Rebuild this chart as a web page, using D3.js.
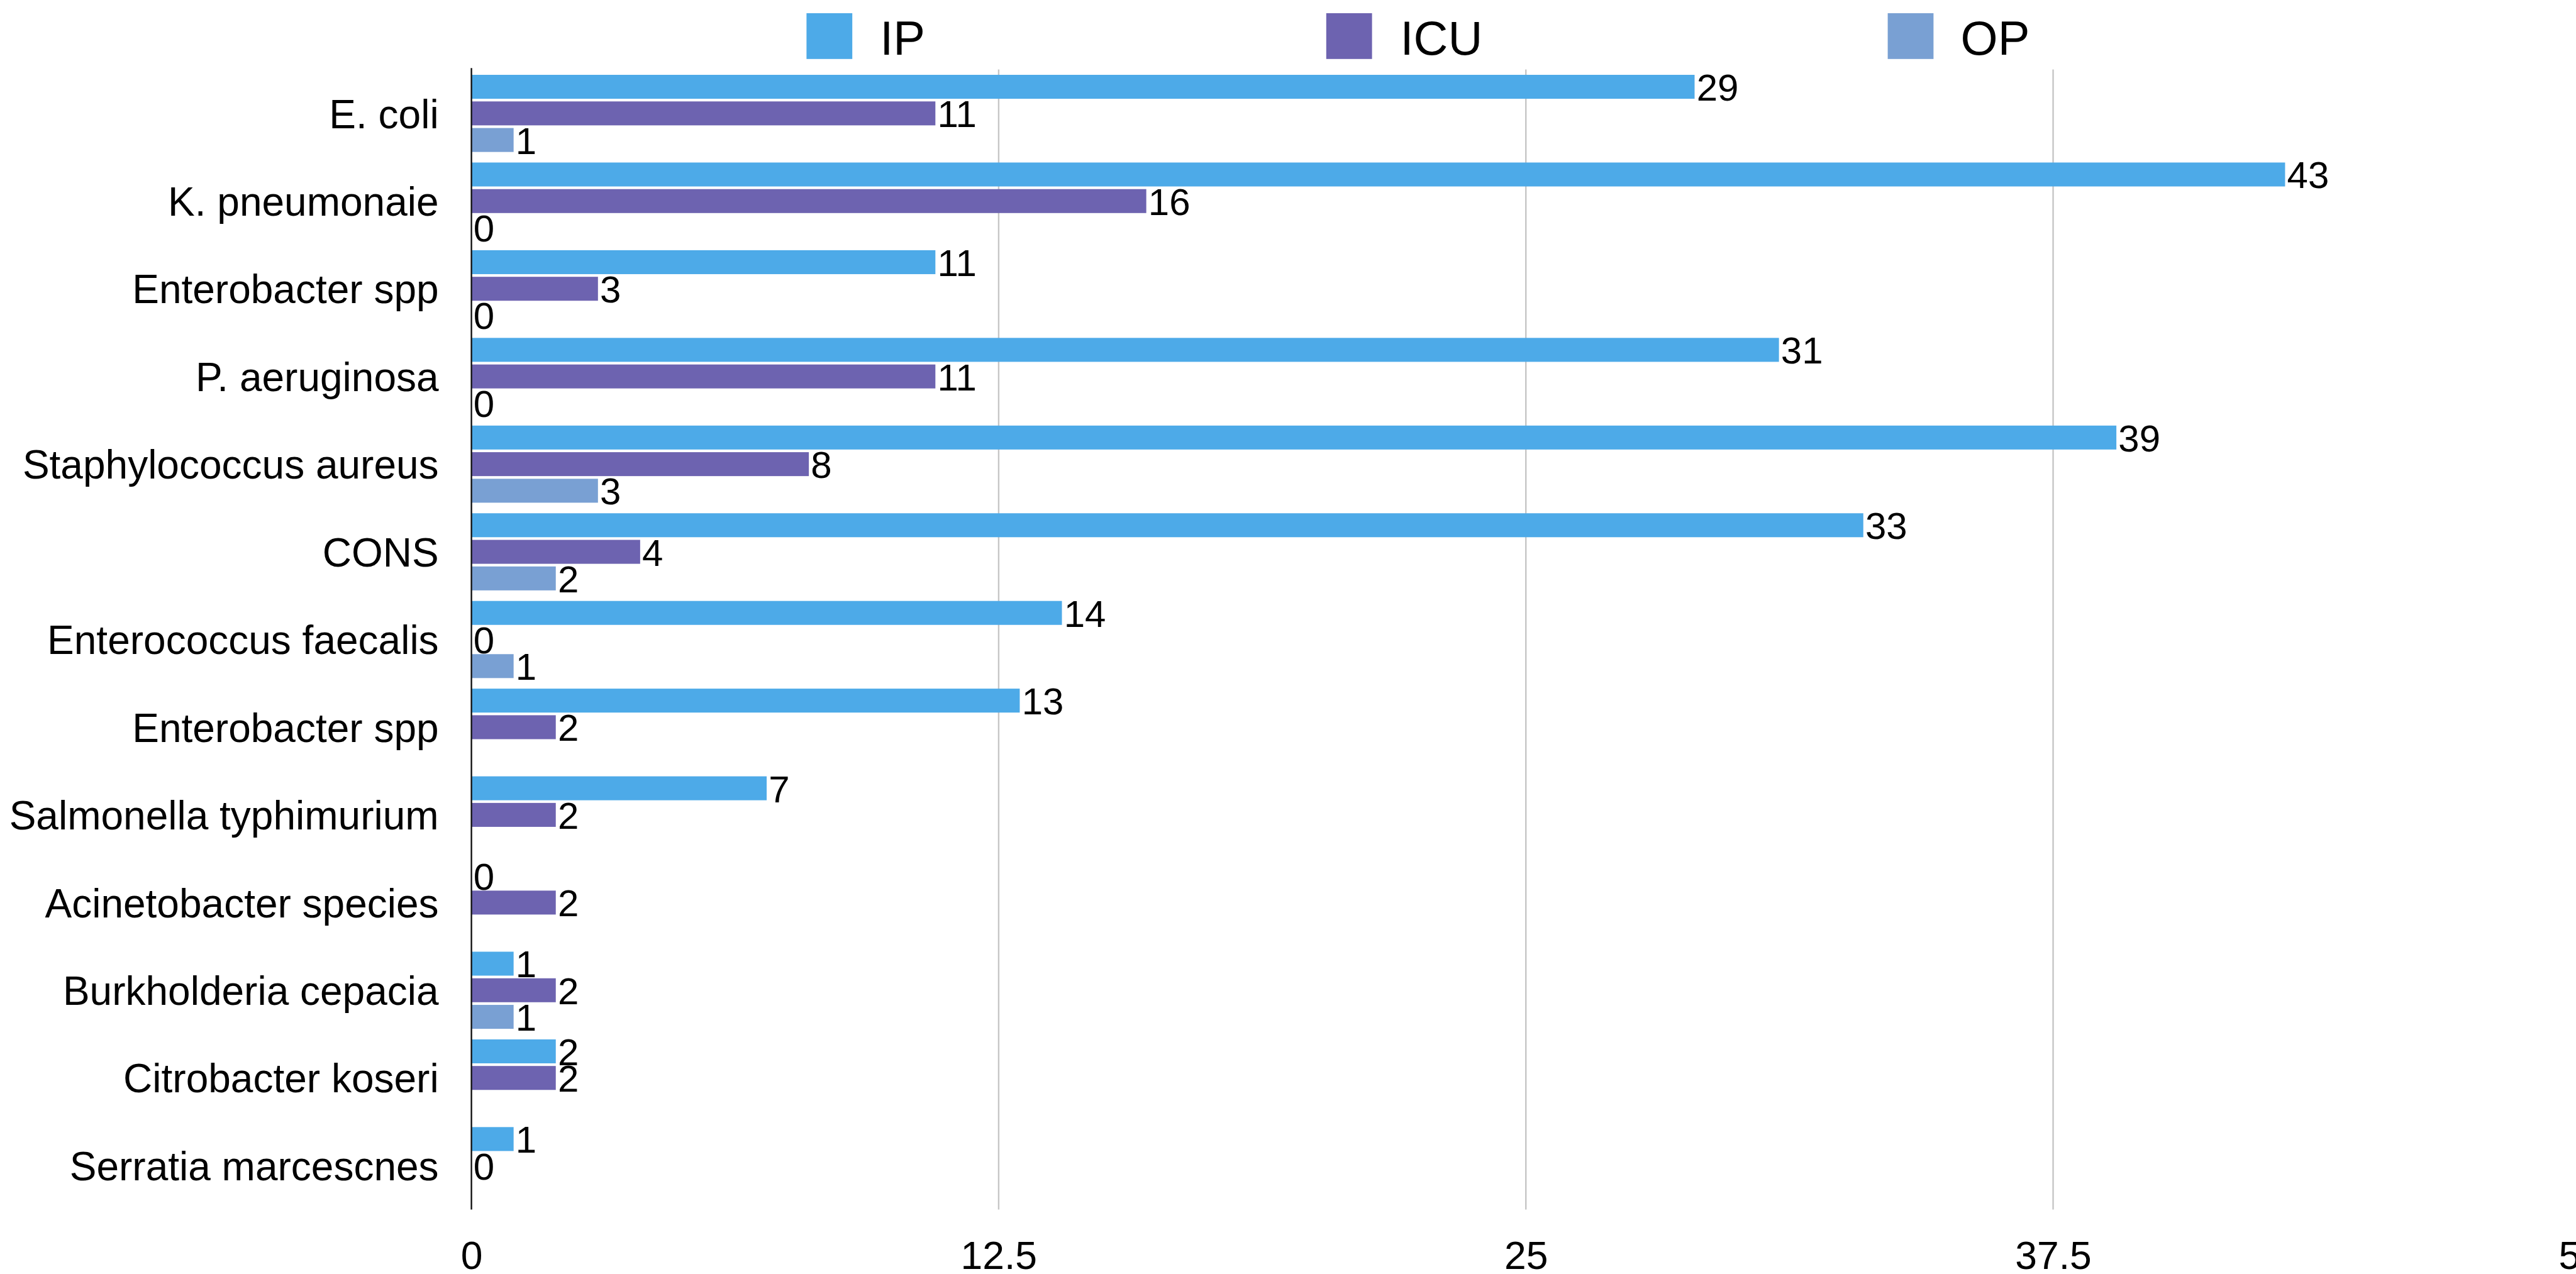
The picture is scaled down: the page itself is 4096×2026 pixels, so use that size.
<!DOCTYPE html>
<html>
<head>
<meta charset="utf-8">
<script src="https://cdn.jsdelivr.net/npm/d3@7"></script>
<style>
html,body{margin:0;padding:0;background:#fff;overflow:hidden;}
svg{display:block;}
text{font-family:"Liberation Sans",Arial,Helvetica,sans-serif;fill:#000;}
</style>
</head>
<body>
<script>
const categories = ["E. coli","K. pneumonaie","Enterobacter spp","P. aeruginosa","Staphylococcus aureus","CONS","Enterococcus faecalis","Enterobacter spp ","Salmonella typhimurium","Acinetobacter species","Burkholderia cepacia","Citrobacter koseri","Serratia marcescnes"];
const seriesNames = ["IP","ICU","OP"];
const ipValues  = [29,43,11,31,39,33,14,13,7,0,1,2,1];
const icuValues = [11,16,3,11,8,4,0,2,2,2,2,2,0];
const opValues  = [1,0,0,0,3,2,1,null,null,null,1,null,null];
const xTicks = [0,12.5,25,37.5,50];
const colors = ["#4DAAE8","#6D63B0","#79A0D3"];

(function(){
const W = 5120, H = 2532;
const svg = d3.select("body").append("svg")
  .attr("width",4096).attr("height",2026)
  .attr("viewBox",`0 0 ${W} ${H}`)
  .style("overflow","hidden");

const plotLeft = 937, plotTop = 138, plotBottom = 2404;
const x = d3.scaleLinear().domain([0,50]).range([plotLeft, plotLeft + 4*1047.9]);
const y = d3.scaleBand().domain(d3.range(categories.length)).range([plotTop,plotBottom]).paddingInner(0).paddingOuter(0);
const yi = d3.scaleBand().domain(seriesNames).range([10.5, y.bandwidth()-10.5]).paddingInner(0.1).paddingOuter(0);

const allSeries = [ipValues, icuValues, opValues];

// gridlines
svg.append("g").selectAll("line").data(xTicks.filter(t=>t>0)).join("line")
  .attr("x1",d=>x(d)).attr("x2",d=>x(d))
  .attr("y1",plotTop).attr("y2",plotBottom)
  .attr("stroke","#c6c6c6").attr("stroke-width",3);

// bars
const groups = svg.append("g").selectAll("g").data(categories).join("g")
  .attr("transform",(d,i)=>`translate(0,${y(i)})`);

seriesNames.forEach((s,si)=>{
  groups.each(function(c,i){
    const v = allSeries[si][i];
    if (v === null) return;
    const g = d3.select(this);
    if (v > 0) {
      g.append("rect")
        .attr("x",x(0)).attr("y",yi(s))
        .attr("width",x(v)-x(0)).attr("height",yi.bandwidth())
        .attr("fill",colors[si]);
    }
    g.append("text")
      .attr("x",x(v)+4)
      .attr("y",yi(s)+yi.bandwidth()/2+27.5)
      .attr("font-size",75)
      .text(v);
  });
});

// y axis line
svg.append("line").attr("x1",plotLeft).attr("x2",plotLeft).attr("y1",plotTop-3).attr("y2",plotBottom)
  .attr("stroke","#111").attr("stroke-width",3);

// category labels
const yAxis = d3.axisLeft(d3.scaleBand().domain(categories).range([plotTop,plotBottom])).tickSize(0).tickPadding(0);
const ya = svg.append("g").attr("transform",`translate(${plotLeft-65},0)`).call(yAxis);
ya.select(".domain").remove();
ya.selectAll("text").attr("font-size",80).attr("dy",null)
  .attr("y",29).style("font-family",'"Liberation Sans",Arial,Helvetica,sans-serif').attr("fill","#000");

// x axis tick labels
const xAxis = d3.axisBottom(x).tickValues(xTicks).tickFormat(d3.format("~g")).tickSize(0).tickPadding(0);
const xa = svg.append("g").call(xAxis);
xa.select(".domain").remove();
xa.selectAll("text").attr("font-size",78).attr("dy",null).attr("y",2522)
  .style("font-family",'"Liberation Sans",Arial,Helvetica,sans-serif').attr("fill","#000");

// legend
const legendX = [1603,2636,3752];
const lg = svg.append("g").selectAll("g").data(seriesNames).join("g")
  .attr("transform",(d,i)=>`translate(${legendX[i]},26)`);
lg.append("rect").attr("width",91).attr("height",91).attr("fill",(d,i)=>colors[i]);
lg.append("text").attr("x",(d,i)=>[146,147,145][i]).attr("y",82).attr("font-size",95).text(d=>d);
})();
</script>
</body>
</html>
